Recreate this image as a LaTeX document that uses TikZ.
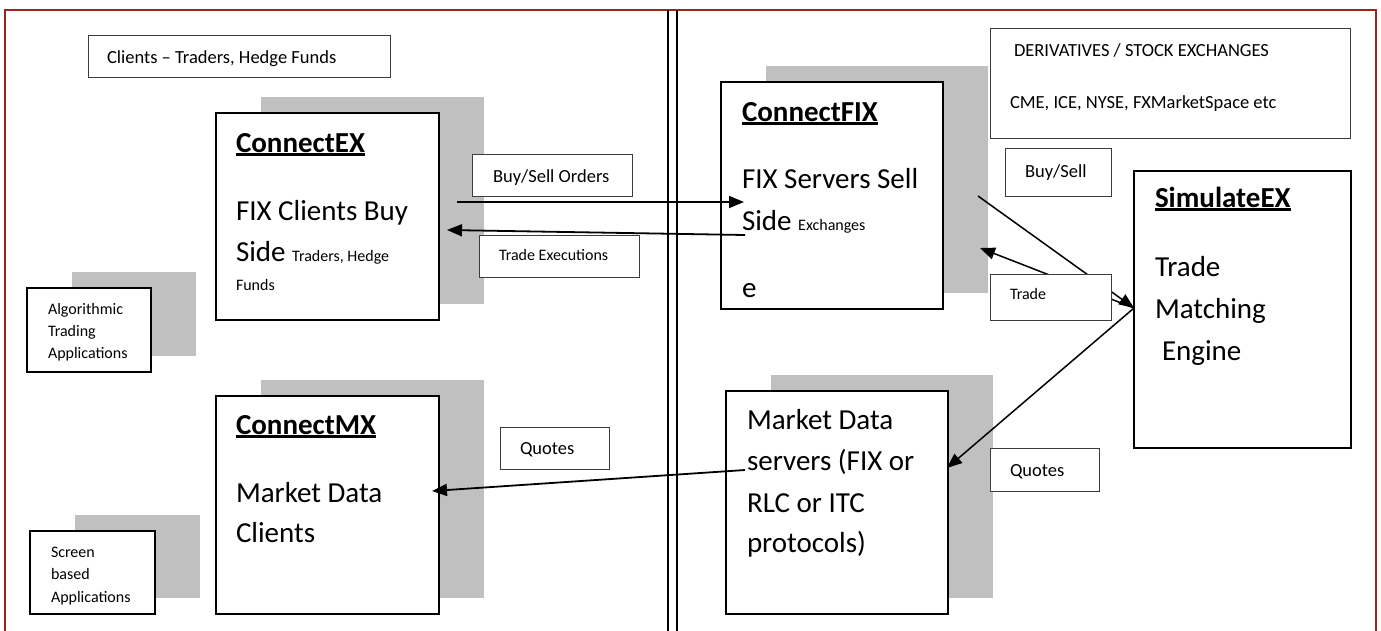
\documentclass[tikz,border=0pt]{standalone}
\usepackage{fontspec}
\setmainfont{Carlito}
\usetikzlibrary{arrows.meta,backgrounds}
\definecolor{frame}{RGB}{155,35,35}
\definecolor{shade}{RGB}{192,192,192}
\definecolor{lblline}{RGB}{60,60,60}
\newcommand\szBig{\fontsize{29}{34}\selectfont}
\newcommand\szMid{\fontsize{18.5}{22}\selectfont}
\newcommand\szSmall{\fontsize{16}{19}\selectfont}
\newcommand\headul[1]{\setbox0\hbox{\szBig\bfseries #1}\rlap{\vrule height -1pt depth 4pt width \wd0}\box0}
\begin{document}
\begin{tikzpicture}[x=1pt,y=-1pt,
  mainbox/.style={draw=black,line width=2pt,fill=white,inner sep=0pt,outer sep=0pt,anchor=north west},
  lblbox/.style={draw=lblline,line width=1pt,fill=white,inner sep=0pt,outer sep=0pt,anchor=north west},
  txt/.style={inner sep=0pt,outer sep=0pt,anchor=base west},
  arr/.style={draw=black,line width=1.8pt,-{Triangle[length=15pt,width=12pt]}},
  shadowfill/.style={fill=shade}]
\useasboundingbox (0,0) rectangle (1381,630);
\clip (0,0) rectangle (1381,630);

% frame and divider
\draw[frame,line width=2.2pt] (5,660) -- (5,10) -- (1376,10) -- (1376,660);
\draw[black,line width=1.5pt] (668,10) -- (668,660);
\draw[black,line width=1.5pt] (677,10) -- (677,660);

% main boxes
\node[mainbox,minimum width=223pt,minimum height=207pt] (cex) at (216,113) {};
\node[mainbox,minimum width=223pt,minimum height=218pt] (cmx) at (216,396) {};
\node[mainbox,minimum width=222pt,minimum height=227pt] (cfix) at (721,82) {};
\node[mainbox,minimum width=222pt,minimum height=223pt] (mds) at (726,391) {};
\node[mainbox,minimum width=217pt,minimum height=277pt] (sim) at (1134,171) {};
\node[mainbox,minimum width=124pt,minimum height=84pt] (algo) at (27,288) {};
\node[mainbox,minimum width=125pt,minimum height=83pt] (scr) at (30,531) {};

% page background and shadows
\begin{scope}[on background layer]
  \fill[white] (0,0) rectangle (1381,630);
  \foreach \b in {cex,cmx,cfix,mds,algo,scr}
    \fill[shadowfill] ([shift={(45,-16)}]\b.north west) rectangle ([shift={(45,-16)}]\b.south east);
\end{scope}

% label boxes
\node[lblbox,minimum width=302pt,minimum height=42pt] (clients) at (88,35) {};
\node[lblbox,minimum width=160pt,minimum height=42pt] (bso) at (472,154) {};
\node[lblbox,minimum width=160pt,minimum height=42pt] (tex) at (479,235) {};
\node[lblbox,minimum width=109pt,minimum height=42pt] (qL) at (500,427) {};
\node[lblbox,minimum width=360pt,minimum height=110pt] (deriv) at (990,28) {};
\node[lblbox,minimum width=106pt,minimum height=48pt] (bs) at (1005,148) {};
\node[lblbox,minimum width=109pt,minimum height=43pt] (qR) at (990,448) {};

% texts
\node[txt] (t1) at (107,63) {\szMid Clients – Traders, Hedge Funds};
\node[txt] (t2) at (236,152) {\headul{ConnectEX}};
\node[txt] (t3) at (236,220) {\szBig FIX Clients Buy};
\node[txt] (t4) at (236,261) {\szBig Side \szSmall Traders, Hedge};
\node[txt] (t5) at (236,290) {\szSmall Funds};
\node[txt] (t6) at (48,314) {\szSmall Algorithmic};
\node[txt] (t7) at (48,336) {\szSmall Trading};
\node[txt] (t8) at (48,358) {\szSmall Applications};
\node[txt] (t9) at (236,434) {\headul{ConnectMX}};
\node[txt] (t10) at (236,502) {\szBig Market Data};
\node[txt] (t11) at (236,542) {\szBig Clients};
\node[txt] (t12) at (51,557) {\szSmall Screen};
\node[txt] (t13) at (51,579) {\szSmall based};
\node[txt] (t14) at (51,602) {\szSmall Applications};
\node[txt] (t15) at (493,182) {\szMid Buy/Sell Orders};
\node[txt] (t16) at (499,260) {\szSmall Trade Executions};
\node[txt] (t17) at (742,121) {\headul{ConnectFIX}};
\node[txt] (t18) at (742,188) {\szBig FIX Servers Sell};
\node[txt] (t19) at (742,230) {\szBig Side \szSmall Exchanges};
\node[txt] (t20) at (742,297) {\szBig e};
\node[txt] (t21) at (1014,56) {\szMid DERIVATIVES / STOCK EXCHANGES};
\node[txt] (t22) at (1010,108) {\szMid CME, ICE, NYSE, FXMarketSpace etc};
\node[txt] (t23) at (1025,177) {\szMid Buy/Sell};
\node[txt] (t24) at (1155,207) {\headul{SimulateEX}};
\node[txt] (t25) at (1155,276) {\szBig Trade};
\node[txt] (t26) at (1155,318) {\szBig Matching};
\node[txt] (t27) at (1162,360) {\szBig Engine};
\node[txt] (t28) at (747,429) {\szBig Market Data};
\node[txt] (t29) at (747,470) {\szBig servers (FIX or};
\node[txt] (t30) at (747,512) {\szBig RLC or ITC};
\node[txt] (t31) at (747,552) {\szBig protocols)};
\node[txt] (t32) at (520,454) {\szMid Quotes};
\node[txt] (t33) at (1010,476) {\szMid Quotes};

% connector end points
\coordinate (ordA) at (457,202);
\coordinate (ordB) at (744,202);
\coordinate (exeA) at (745,235);
\coordinate (exeB) at (447,230);
\coordinate (quoA) at (745,470);
\coordinate (quoB) at (432,491);
\coordinate (simL) at (1134,308);
\coordinate (fixA) at (978,196);
\coordinate (fixB) at (980,248);
\coordinate (mdsA) at (947,468);

% connectors
\draw[arr] (ordA) -- (ordB);
\draw[arr] (exeA) -- (exeB);
\draw[arr] (quoA) -- (quoB);
\draw[arr,line width=1.5pt] (fixA) -- (simL);
\draw[arr,line width=1.5pt] (simL) -- (fixB);
\draw[arr,line width=1.5pt] (simL) -- (mdsA);

% trade label on top of connectors
\node[lblbox,minimum width=121pt,minimum height=46pt] (trade) at (990,274) {};
\node[txt] (t34) at (1010,299) {\szSmall Trade};
\end{tikzpicture}
\end{document}
